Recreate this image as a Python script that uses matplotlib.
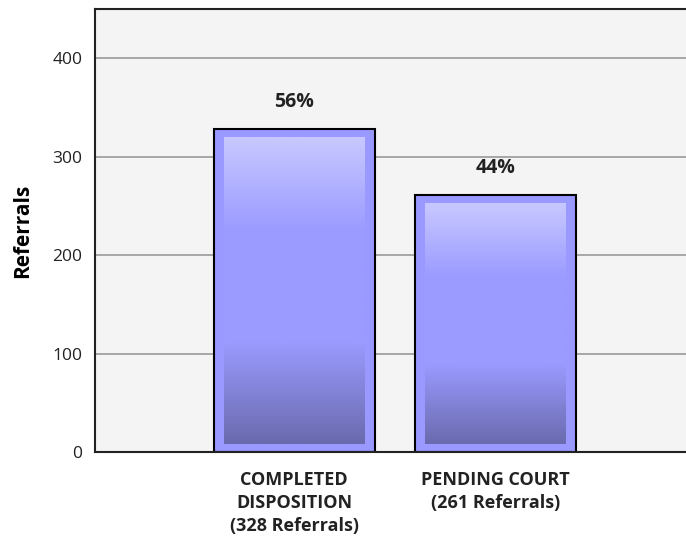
import matplotlib.pyplot as plt
import numpy as np
from matplotlib.colors import LinearSegmentedColormap

categorias = ["COMPLETED\nDISPOSITION\n(328 Referrals)", "PENDING COURT\n(261 Referrals)"]
referrals = [328, 261]
porcentajes = ["56%", "44%"]
y_ticks = [0, 100, 200, 300, 400]

plt.rcParams['font.family'] = ['Open Sans', 'DejaVu Sans']

fig = plt.figure(figsize=(6.86, 5.44), dpi=100)
ax = fig.add_axes([95 / 686, 92 / 544, 1 - 95 / 686 + 0.01, (452 - 9) / 544])
ax.set_facecolor("#f4f4f4")

x = np.arange(len(referrals))
ancho = 0.8
barras = ax.bar(x, referrals, width=ancho, color="#9999ff", edgecolor="black",
                linewidth=1.5, zorder=2)

# degradado dentro de cada barra
grad = LinearSegmentedColormap.from_list(
    "barra", [(0, "#c8c8ff"), (0.31, "#9a9aff"), (0.67, "#9a9aff"), (1, "#6a6aae")])
paso = np.linspace(0, 1, 256).reshape(-1, 1)
for xi, val in zip(x, referrals):
    ax.imshow(paso, cmap=grad, aspect="auto", origin="upper", zorder=3,
              extent=[xi - ancho / 2 + 0.05, xi + ancho / 2 - 0.05, 8, val - 9])

for xi, val, pct in zip(x, referrals, porcentajes):
    ax.annotate(pct, (xi, val), xytext=(0, 12), textcoords="offset points",
                ha="center", va="bottom", fontsize=14, fontweight="bold",
                color="#222222")

ax.set_xlim(-0.99, 1.98)
ax.set_ylim(0, 450)
ax.set_yticks(y_ticks)
ax.set_xticks(x)
ax.set_xticklabels(categorias, fontsize=13, fontweight="bold", color="#222222",
                   linespacing=1.35)
ax.tick_params(axis="both", length=0)
ax.tick_params(axis="y", pad=9, labelsize=12.5, colors="#222222")
ax.tick_params(axis="x", pad=14)
ax.set_ylabel("Referrals", fontsize=15, fontweight="bold", labelpad=14)
ax.grid(axis="y", color="#999999", linewidth=1.2, zorder=0)
ax.set_axisbelow(True)

for lado in ["left", "top", "bottom"]:
    ax.spines[lado].set_linewidth(1.5)
    ax.spines[lado].set_color("#222222")
ax.spines["right"].set_visible(False)

fig.savefig("out.png", dpi=100)
